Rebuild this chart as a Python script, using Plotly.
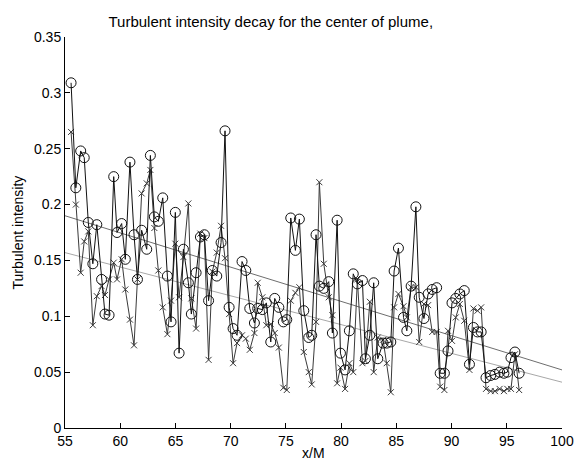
import plotly.graph_objects as go

# Streamwise position (x/M) of each measurement station
x_m = [55.55, 55.98, 56.42, 56.74, 57.11, 57.52, 57.88, 58.31, 58.62, 58.99,
       59.41, 59.71, 60.13, 60.46, 60.88, 61.25, 61.56, 61.94, 62.40, 62.73,
       63.09, 63.45, 63.85, 64.27, 64.60, 64.99, 65.33, 65.72, 66.17, 66.44,
       66.87, 67.26, 67.62, 68.00, 68.34, 68.74, 69.13, 69.49, 69.86, 70.22,
       70.58, 71.03, 71.37, 71.73, 72.15, 72.45, 72.87, 73.23, 73.63, 73.99,
       74.36, 74.77, 75.08, 75.44, 75.86, 76.22, 76.62, 77.07, 77.34, 77.73,
       78.03, 78.43, 78.88, 79.21, 79.64, 79.94, 80.36, 80.75, 81.10, 81.47,
       81.93, 82.20, 82.60, 82.95, 83.32, 83.80, 84.13, 84.50, 84.80, 85.19,
       85.65, 85.95, 86.34, 86.77, 87.07, 87.50, 87.88, 88.25, 88.65, 88.97,
       89.35, 89.68, 90.04, 90.38, 90.75, 91.15, 91.62, 91.98, 92.35, 92.68,
       93.12, 93.54, 93.93, 94.35, 94.74, 95.05, 95.38, 95.74, 96.12]

# Turbulent intensity, series drawn with open circles
ti_circle = [0.309, 0.215, 0.248, 0.242, 0.184, 0.147, 0.182, 0.133, 0.102, 0.101,
             0.225, 0.175, 0.183, 0.151, 0.238, 0.173, 0.133, 0.177, 0.160, 0.244,
             0.189, 0.185, 0.206, 0.136, 0.095, 0.193, 0.067, 0.160, 0.130, 0.102,
             0.139, 0.171, 0.173, 0.114, 0.141, 0.136, 0.166, 0.266, 0.108, 0.089,
             0.083, 0.149, 0.141, 0.107, 0.094, 0.107, 0.106, 0.112, 0.077, 0.116,
             0.108, 0.095, 0.097, 0.188, 0.159, 0.187, 0.105, 0.081, 0.083, 0.173,
             0.127, 0.125, 0.131, 0.085, 0.186, 0.067, 0.052, 0.087, 0.138, 0.129,
             0.132, 0.062, 0.083, 0.130, 0.062, 0.076, 0.076, 0.077, 0.1405, 0.161,
             0.099, 0.087, 0.127, 0.198, 0.117, 0.098, 0.120, 0.124, 0.1256, 0.049,
             0.049, 0.069, 0.112, 0.116, 0.120, 0.123, 0.057, 0.090, 0.086, 0.086,
             0.045, 0.047, 0.048, 0.050, 0.049, 0.050, 0.063, 0.068, 0.049]

# Turbulent intensity, series drawn with crosses
ti_cross = [0.265, 0.200, 0.139, 0.167, 0.176, 0.092, 0.118, 0.127, 0.119, 0.133,
            0.148, 0.133, 0.151, 0.124, 0.097, 0.074, 0.133, 0.210, 0.219, 0.231,
            0.179, 0.141, 0.108, 0.084, 0.114, 0.165, 0.117, 0.153, 0.201, 0.116,
            0.089, 0.174, 0.170, 0.061, 0.140, 0.157, 0.181, 0.152, 0.102, 0.058,
            0.076, 0.083, 0.080, 0.070, 0.085, 0.130, 0.117, 0.092, 0.093, 0.085,
            0.072, 0.036, 0.034, 0.114, 0.121, 0.126, 0.068, 0.050, 0.039, 0.095,
            0.220, 0.147, 0.117, 0.101, 0.040, 0.054, 0.035, 0.058, 0.050, 0.133,
            0.058, 0.060, 0.113, 0.050, 0.081, 0.079, 0.058, 0.032, 0.108, 0.120,
            0.109, 0.099, 0.126, 0.126, 0.077, 0.111, 0.110, 0.086, 0.086, 0.037,
            0.034, 0.087, 0.078, 0.099, 0.111, 0.096, 0.052, 0.107, 0.105, 0.108,
            0.035, 0.033, 0.033, 0.035, 0.033, 0.035, 0.035, 0.066, 0.034]

# Linear decay fits (endpoints over the axis range)
fit_x = [55, 100]
fit_circle = [0.190, 0.052]
fit_cross = [0.157, 0.041]

fig = go.Figure()

fig.add_trace(go.Scatter(x=fit_x, y=fit_circle, mode="lines",
                         line=dict(color="#6e6e6e", width=1), showlegend=False))
fig.add_trace(go.Scatter(x=fit_x, y=fit_cross, mode="lines",
                         line=dict(color="#a8a8a8", width=1), showlegend=False))

fig.add_trace(go.Scatter(x=x_m, y=ti_cross, mode="lines+markers",
                         line=dict(color="#3a3a3a", width=1),
                         marker=dict(symbol="x-thin-open", size=6,
                                     line=dict(color="#3a3a3a", width=1)),
                         showlegend=False))
fig.add_trace(go.Scatter(x=x_m, y=ti_circle, mode="lines+markers",
                         line=dict(color="#111111", width=1),
                         marker=dict(symbol="circle-open", size=10, color="#111111",
                                     line=dict(color="#111111", width=1)),
                         showlegend=False))

FONT = "Liberation Sans, Arial, sans-serif"
axis_font = dict(family=FONT, size=14, color="black")

fig.update_layout(
    width=576, height=464,
    margin=dict(l=65, r=14, t=37, b=36, autoexpand=False),
    paper_bgcolor="white", plot_bgcolor="white",
    font=axis_font,
    title=dict(text="Turbulent intensity decay for the center of plume,",
               x=0.414, xref="paper", xanchor="center",
               y=1 - 22 / 464, yref="container", yanchor="middle",
               font=dict(family=FONT, size=15, color="black")),
    xaxis=dict(range=[55, 100], tickmode="array",
               tickvals=[55, 60, 65, 70, 75, 80, 85, 90, 95, 100],
               showgrid=False, zeroline=False, showline=True, linecolor="black",
               linewidth=1, ticks="inside", ticklen=5, tickcolor="black",
               automargin=False),
    yaxis=dict(range=[0, 0.35], tickmode="array",
               tickvals=[0, 0.05, 0.1, 0.15, 0.2, 0.25, 0.3, 0.35],
               ticktext=["0", "0.05", "0.1", "0.15", "0.2", "0.25", "0.3", "0.35"],
               showgrid=False, zeroline=False, showline=True, linecolor="black",
               linewidth=1, ticks="inside", ticklen=5, tickcolor="black",
               automargin=False),
    annotations=[
        dict(text="x/M", x=0.5, y=-(452 - 427.5) / 390.5, xref="paper", yref="paper",
             xanchor="center", yanchor="middle", showarrow=False, font=axis_font),
        dict(text="Turbulent intensity", x=(17 - 65) / 497, y=0.5, xref="paper",
             yref="paper", xanchor="center", yanchor="middle", textangle=-90,
             showarrow=False, font=axis_font),
    ],
)

fig.write_html("out.html")
